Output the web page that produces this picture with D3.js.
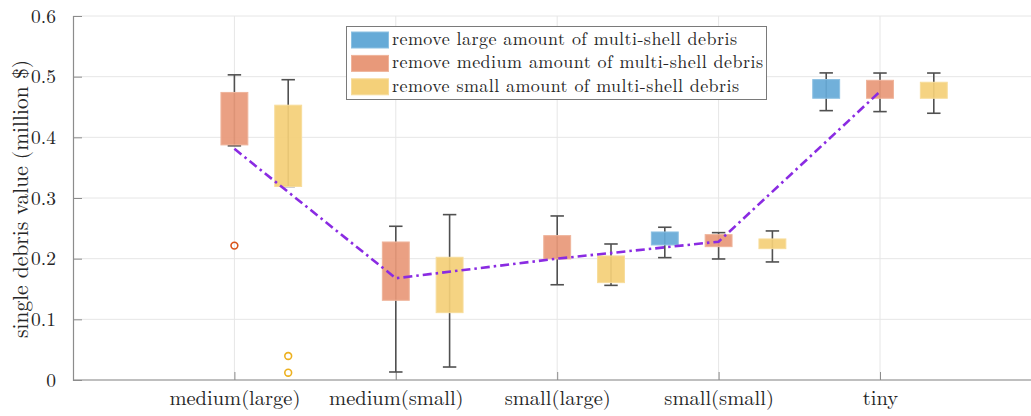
<!DOCTYPE html>
<html>
<head>
<meta charset="utf-8">
<script src="https://cdn.jsdelivr.net/npm/d3@7"></script>
<style>
  html, body { margin: 0; padding: 0; background: #fff; }
  svg text { font-family: "Latin Modern Roman", "CMU Serif", "Liberation Serif", "Times New Roman", serif; fill: #262626; }
</style>
</head>
<body>
<svg id="chart" width="1031" height="416"></svg>
<script>
// Debris size classes on the x axis
const categories = ["medium(large)", "medium(small)", "small(large)", "small(small)", "tiny"];

// Removal scenarios (legend entries)
const seriesNames = [
  "remove large amount of multi-shell debris",
  "remove medium amount of multi-shell debris",
  "remove small amount of multi-shell debris"
];

// Box statistics per category: [lower whisker, Q1, Q3, upper whisker]; null = no box
const largeStats = [
  null,
  null,
  null,
  [0.2017, 0.2226, 0.2440, 0.2518],
  [0.4440, 0.4644, 0.4952, 0.5062]
];
const mediumStats = [
  [0.3860, 0.3875, 0.4740, 0.5030],
  [0.0132, 0.1314, 0.2275, 0.2534],
  [0.1570, 0.1995, 0.2380, 0.2704],
  [0.1995, 0.2198, 0.2396, 0.2429],
  [0.4424, 0.4644, 0.4940, 0.5060]
];
const smallStats = [
  [0.3190, 0.3190, 0.4530, 0.4950],
  [0.0214, 0.1110, 0.2023, 0.2726],
  [0.1560, 0.1605, 0.2045, 0.2242],
  [0.1946, 0.2165, 0.2325, 0.2457],
  [0.4397, 0.4644, 0.4908, 0.5060]
];

// Outliers per category
const largeOutliers  = [[], [], [], [], []];
const mediumOutliers = [[0.2215], [], [], [], []];
const smallOutliers  = [[0.0396, 0.0120], [], [], [], []];

// Reference trend across categories
const trendValues = [0.381, 0.1677, 0.200, 0.228, 0.4755];

const yTicks = [0, 0.1, 0.2, 0.3, 0.4, 0.5, 0.6];

// Colours
const fillColors = ["#66aad7", "#e8997a", "#f4d079"];
const edgeColors = ["#8cc0e2", "#efb49b", "#f7dc9b"];
const outlierColors = ["#0072bd", "#d95319", "#edb120"];
const trendColor = "#8a2be2";

const svg = d3.select("#chart");
const margin = { left: 73, top: 16, bottom: 380 };

// Each category occupies three slots: large, medium, small
const x = d3.scaleLinear().domain([0, 18]).range([margin.left, margin.left + 18 * 53.8]);
const y = d3.scaleLinear().domain([0, 0.6]).range([margin.bottom, margin.top]);

const catPos = i => 3 * (i + 1);
const slotPos = (i, s) => catPos(i) + (s - 1);
const boxHalf = 0.25;
const capHalf = 0.125;

// Grid
const grid = svg.append("g");
grid.selectAll("line.hy").data(yTicks).join("line")
  .attr("x1", x(0)).attr("x2", 1031)
  .attr("y1", d => y(d)).attr("y2", d => y(d))
  .attr("stroke", "#e6e6e6").attr("stroke-width", 1);
grid.selectAll("line.vx").data(categories).join("line")
  .attr("x1", (d, i) => x(catPos(i))).attr("x2", (d, i) => x(catPos(i)))
  .attr("y1", y(0)).attr("y2", y(0.6))
  .attr("stroke", "#e6e6e6").attr("stroke-width", 1);

// Axes
const yAxis = d3.axisLeft(y).tickValues(yTicks).tickSize(-9).tickPadding(17)
  .tickFormat(d => d === 0 ? "0" : d3.format(".1f")(d));
const gy = svg.append("g").attr("transform", `translate(${x(0)},0)`).call(yAxis);
gy.select(".domain").attr("stroke", "#8c8c8c").attr("stroke-width", 1.2);
gy.selectAll(".tick line").attr("stroke", "#8c8c8c");
gy.selectAll(".tick text").attr("font-size", 19.5).attr("fill", "#262626");

const xAxis = d3.axisBottom(x).tickValues(categories.map((d, i) => catPos(i)))
  .tickSize(-8).tickPadding(10).tickFormat((d, i) => categories[i]);
const gx = svg.append("g").attr("transform", `translate(0,${y(0)})`).call(xAxis);
gx.select(".domain").attr("stroke", "#8c8c8c").attr("stroke-width", 1.2)
  .attr("d", `M${x(0)},0H1031`);
gx.selectAll(".tick line").attr("stroke", "#8c8c8c");
gx.selectAll(".tick text").attr("font-size", 20.5).attr("fill", "#262626");

// Y axis title
svg.append("text")
  .attr("transform", "translate(28,199) rotate(-90)")
  .attr("text-anchor", "middle")
  .attr("font-size", 21.5)
  .text("single debris value (million $)");

// Boxes
const allStats = [largeStats, mediumStats, smallStats];
const allOutliers = [largeOutliers, mediumOutliers, smallOutliers];
const boxes = svg.append("g");
allStats.forEach((stats, s) => {
  const g = boxes.append("g");
  const items = stats.map((st, i) => ({ st, i })).filter(d => d.st);
  // whisker stems
  g.selectAll("line.stem").data(items).join("line")
    .attr("x1", d => x(slotPos(d.i, s))).attr("x2", d => x(slotPos(d.i, s)))
    .attr("y1", d => y(d.st[0])).attr("y2", d => y(d.st[3]))
    .attr("stroke", "#505050").attr("stroke-width", 1.6);
  // caps
  [0, 3].forEach(k => {
    g.selectAll(`line.cap${k}`).data(items).join("line")
      .attr("x1", d => x(slotPos(d.i, s) - capHalf)).attr("x2", d => x(slotPos(d.i, s) + capHalf))
      .attr("y1", d => y(d.st[k])).attr("y2", d => y(d.st[k]))
      .attr("stroke", "#505050").attr("stroke-width", 1.6);
  });
  // box bodies
  g.selectAll("rect").data(items).join("rect")
    .attr("x", d => x(slotPos(d.i, s) - boxHalf))
    .attr("width", d => x(slotPos(d.i, s) + boxHalf) - x(slotPos(d.i, s) - boxHalf))
    .attr("y", d => y(d.st[2]))
    .attr("height", d => y(d.st[1]) - y(d.st[2]))
    .attr("fill", fillColors[s]).attr("fill-opacity", 0.93)
    .attr("stroke", edgeColors[s]).attr("stroke-width", 1);
  // outliers
  const outs = allOutliers[s].flatMap((arr, i) => arr.map(v => ({ v, i })));
  g.selectAll("circle").data(outs).join("circle")
    .attr("cx", d => x(slotPos(d.i, s))).attr("cy", d => y(d.v)).attr("r", 3.4)
    .attr("fill", "none").attr("stroke", outlierColors[s]).attr("stroke-width", 1.6);
});

// Trend line
const line = d3.line().x((d, i) => x(catPos(i))).y(d => y(d));
svg.append("path").datum(trendValues)
  .attr("d", line)
  .attr("fill", "none").attr("stroke", trendColor).attr("stroke-width", 2.6)
  .attr("stroke-dasharray", "9,4,2.5,4");

// Legend
const legendWidths = [345, 371, 347];
const legend = svg.append("g");
legend.append("rect").attr("x", 346.5).attr("y", 26.5).attr("width", 420).attr("height", 73)
  .attr("fill", "#fff").attr("stroke", "#7a7a7a").attr("stroke-width", 1);
seriesNames.forEach((name, s) => {
  const cy = 40 + s * 23.4;
  legend.append("rect").attr("x", 351.5).attr("y", cy - 8).attr("width", 37).attr("height", 16)
    .attr("fill", fillColors[s]).attr("stroke", edgeColors[s]).attr("stroke-width", 1);
  legend.append("text").attr("x", 392).attr("y", cy + 5)
    .attr("font-size", 18)
    .attr("textLength", legendWidths[s]).attr("lengthAdjust", "spacing")
    .text(name);
});
</script>
</body>
</html>
